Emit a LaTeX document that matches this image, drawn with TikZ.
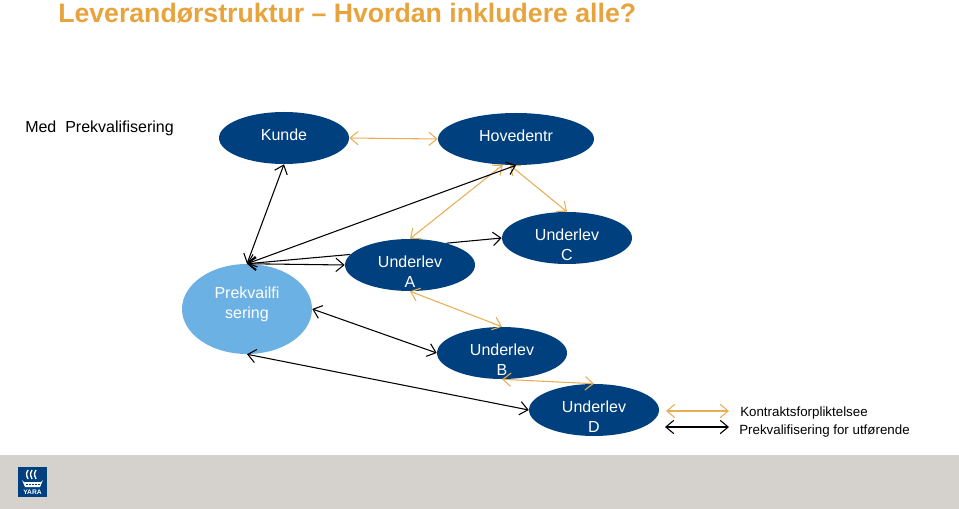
\documentclass[tikz,border=0pt]{standalone}
\usepackage{fontspec}
\setmainfont{Liberation Sans}
\usetikzlibrary{arrows.meta, shapes.geometric}
\definecolor{yarablue}{HTML}{00407F}
\definecolor{lightoval}{HTML}{6CB1E4}
\definecolor{contract}{HTML}{E8AE55}
\definecolor{titleorange}{HTML}{E8A33D}
\definecolor{footgrey}{HTML}{D5D1CC}
\tikzset{
  oval/.style={ellipse, fill=yarablue, minimum width=130*0.75pt, minimum height=52*0.75pt, inner sep=0pt},
  ovaltext/.style={text=white, align=center, font=\fontsize{12}{15}\selectfont},
  contractline/.style={contract, line width=0.8pt, {Straight Barb[length=6pt,width=10pt]}-{Straight Barb[length=6pt,width=10pt]}},
  prekline/.style={black, line width=0.8pt, {Straight Barb[length=6pt,width=10pt]}-{Straight Barb[length=6pt,width=10pt]}},
  plainprek/.style={black, line width=0.8pt, -{Straight Barb[length=6pt,width=10pt]}},
  legendtext/.style={anchor=west, inner sep=0pt, font=\fontsize{10}{12}\selectfont}
}
\begin{document}
\begin{tikzpicture}[x=0.75pt, y=-0.75pt]
\useasboundingbox (0,0) rectangle (959,509);
\fill[footgrey] (0,455) rectangle (959,509);
% logo
\fill[yarablue] (18,467) rectangle (47,497);
\fill[white] (22,480) -- (24,482) -- (41,482) -- (43,480) -- (40,487) -- (25,487) -- cycle;
\foreach \x in {27,31,35}
  \draw[white, line width=1pt] (\x+1,470) .. controls (\x-1,474) .. (\x+1,479);
\foreach \x in {26,29,...,38}
  \fill[yarablue] (\x,483.5) rectangle +(1.5,1.5);
\node[white, inner sep=0pt, font=\bfseries\fontsize{5}{6}\selectfont] (yara) at (32.5,492) {YARA};
% heading
\node[anchor=west, inner sep=0pt, text=titleorange, font=\bfseries\fontsize{20}{24}\selectfont] (title) at (58,13) {Leverandørstruktur – Hvordan inkludere alle?};
\node[anchor=west, inner sep=0pt, font=\fontsize{12}{15}\selectfont] (med) at (25,128) {Med\ \ Prekvalifisering};
% ovals
\node[oval, label={[ovaltext, yshift=2.2pt]center:Kunde}] (kunde) at (284,138) {};
\node[oval, minimum width=156*0.75pt, label={[ovaltext, yshift=2.2pt]center:Hovedentr}] (hoved) at (516,139) {};
\node[oval, fill=lightoval, minimum height=90*0.75pt, label={[ovaltext, yshift=3.5pt]center:Prekvailfi\\sering}] (prek) at (247,309) {};
\node[oval, label={[ovaltext, yshift=-5.2pt]center:Underlev\\A}] (a) at (410,265) {};
\node[oval, label={[ovaltext, yshift=-5.2pt]center:Underlev\\C}] (c) at (567,238) {};
\node[oval, label={[ovaltext, yshift=-5.2pt]center:Underlev\\B}] (b) at (502,353) {};
\node[oval, label={[ovaltext, yshift=-5.2pt]center:Underlev\\D}] (d) at (594,410) {};
% contract lines
\draw[contractline] (kunde.east) -- (hoved.west);
\draw[contractline] (a.north) -- (hoved.243);
\draw[contractline] (hoved.257) -- (c.north);
\draw[contractline] (a.south) -- (b.north);
\draw[contractline] (b.south) -- (d.north);
% prequalification lines
\draw[prekline] (prek.north) -- (kunde.south);
\draw[prekline] (prek.north) -- (hoved.south);
\draw[prekline] (prek.north) -- (a.west);
\draw[plainprek] (a.170) -- (prek.north);
\draw[plainprek] (a.31) -- (c.west);
\draw[prekline] (prek.east) -- (b.west);
\draw[prekline] (prek.south) -- (d.west);
% legend
\coordinate (k1) at (666,411);
\coordinate (k2) at (729,411);
\coordinate (p1) at (665,427);
\coordinate (p2) at (729,427);
\draw[contractline] (k1) -- (k2);
\draw[prekline] (p1) -- (p2);
\node[legendtext] (ktext) at (740,413) {Kontraktsforpliktelsee};
\node[legendtext] (ptext) at (739,431) {Prekvalifisering for utførende};
\end{tikzpicture}
\end{document}
